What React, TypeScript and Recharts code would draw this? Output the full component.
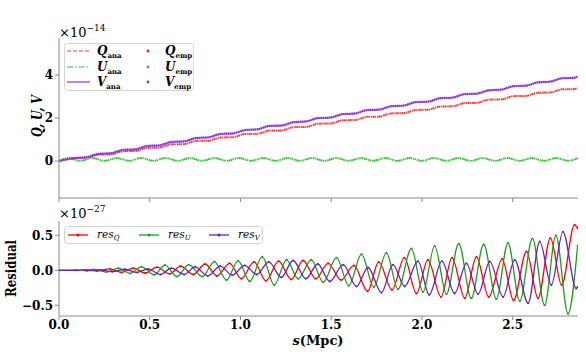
import { LineChart, Line, XAxis, YAxis, Legend } from "recharts";

// top panel: Stokes parameters (units of 1e-14)
const stepS = [0, 0.084, 0.15, 0.218, 0.285, 0.353, 0.419, 0.487, 0.554, 0.622, 0.688, 0.756, 0.823, 0.891, 0.957, 1.025, 1.092, 1.16, 1.226, 1.294, 1.361, 1.429, 1.495, 1.563, 1.63, 1.698, 1.764, 1.832, 1.899, 1.967, 2.033, 2.101, 2.168, 2.236, 2.302, 2.37, 2.437, 2.505, 2.571, 2.639, 2.706, 2.774, 2.84, 2.858];
const qAna = [0, 0.15, 0.16, 0.295, 0.305, 0.455, 0.465, 0.615, 0.625, 0.775, 0.785, 0.935, 0.945, 1.095, 1.105, 1.255, 1.265, 1.415, 1.425, 1.575, 1.585, 1.735, 1.745, 1.895, 1.905, 2.055, 2.065, 2.215, 2.225, 2.375, 2.385, 2.535, 2.545, 2.695, 2.705, 2.855, 2.865, 3.015, 3.025, 3.175, 3.185, 3.335, 3.345, 3.4];
const vAna = [0, 0.13, 0.17, 0.335, 0.36, 0.52, 0.54, 0.7, 0.73, 0.89, 0.91, 1.07, 1.1, 1.26, 1.28, 1.44, 1.47, 1.63, 1.65, 1.81, 1.84, 2.0, 2.02, 2.18, 2.21, 2.37, 2.39, 2.55, 2.58, 2.74, 2.76, 2.92, 2.95, 3.11, 3.13, 3.29, 3.32, 3.48, 3.5, 3.66, 3.69, 3.85, 3.87, 3.93];
const uS = [0, 0.05, 0.117, 0.184, 0.251, 0.319, 0.386, 0.453, 0.52, 0.588, 0.655, 0.722, 0.789, 0.857, 0.924, 0.991, 1.058, 1.126, 1.193, 1.26, 1.327, 1.395, 1.462, 1.529, 1.596, 1.664, 1.731, 1.798, 1.865, 1.933, 2.0, 2.067, 2.134, 2.202, 2.269, 2.336, 2.403, 2.471, 2.538, 2.605, 2.672, 2.74, 2.807, 2.858];
const uAna = [0, 0.13, 0.01, 0.14, 0.01, 0.14, 0.01, 0.14, 0.01, 0.14, 0.01, 0.14, 0.01, 0.14, 0.01, 0.14, 0.01, 0.14, 0.01, 0.14, 0.01, 0.14, 0.01, 0.14, 0.01, 0.14, 0.01, 0.14, 0.01, 0.14, 0.01, 0.14, 0.01, 0.14, 0.01, 0.14, 0.01, 0.14, 0.01, 0.14, 0.01, 0.14, 0.01, 0.13];
// empirical values sit on top of the analytic ones
const qEmp = qAna;
const uEmp = uAna;
const vEmp = vAna;

// bottom panel: residuals (units of 1e-27)
const resQS = [0, 0.09, 0.145, 0.21, 0.28, 0.345, 0.41, 0.475, 0.54, 0.61, 0.67, 0.74, 0.805, 0.87, 0.94, 1.005, 1.075, 1.14, 1.21, 1.28, 1.345, 1.415, 1.483, 1.555, 1.625, 1.7, 1.762, 1.835, 1.903, 1.97, 2.033, 2.105, 2.166, 2.236, 2.3, 2.368, 2.442, 2.505, 2.576, 2.64, 2.708, 2.77, 2.841, 2.858];
const resQ = [0, 0, 0.005, -0.01, 0.02, -0.03, 0.03, -0.04, 0.045, -0.05, 0.06, -0.06, 0.09, -0.08, 0.1, -0.12, 0.12, -0.15, 0.13, -0.13, 0.14, -0.12, 0.1, -0.14, 0.07, -0.3, 0.12, -0.28, 0.18, -0.33, 0.15, -0.38, 0.18, -0.4, 0.19, -0.38, 0.16, -0.43, 0.27, -0.4, 0.46, -0.21, 0.65, 0.6];
const resUS = [0, 0.12, 0.19, 0.26, 0.327, 0.391, 0.455, 0.525, 0.584, 0.65, 0.715, 0.79, 0.856, 0.923, 0.987, 1.052, 1.12, 1.186, 1.254, 1.318, 1.39, 1.456, 1.529, 1.597, 1.667, 1.735, 1.804, 1.868, 1.942, 2.006, 2.07, 2.135, 2.203, 2.272, 2.34, 2.41, 2.474, 2.539, 2.609, 2.676, 2.738, 2.805, 2.858];
const resU = [0, 0, 0.012, -0.025, 0.03, -0.045, 0.05, -0.065, 0.075, -0.09, 0.08, -0.09, 0.125, -0.14, 0.135, -0.16, 0.195, -0.21, 0.15, -0.12, 0.15, -0.17, 0.18, -0.22, 0.23, -0.24, 0.25, -0.27, 0.31, -0.31, 0.35, -0.34, 0.38, -0.4, 0.37, -0.41, 0.39, -0.44, 0.455, -0.5, 0.5, -0.62, 0.35];
const resVS = [0, 0.1, 0.155, 0.225, 0.295, 0.363, 0.43, 0.49, 0.56, 0.62, 0.69, 0.75, 0.82, 0.888, 0.955, 1.023, 1.09, 1.156, 1.225, 1.29, 1.36, 1.426, 1.492, 1.566, 1.639, 1.703, 1.777, 1.84, 1.905, 1.978, 2.04, 2.11, 2.18, 2.245, 2.309, 2.374, 2.447, 2.511, 2.585, 2.649, 2.713, 2.777, 2.85, 2.858];
const resV = [0, 0, -0.005, 0.005, -0.02, 0.015, -0.03, 0.02, -0.06, 0.03, -0.06, 0.05, -0.08, 0.06, -0.07, 0.07, -0.06, 0.12, -0.1, 0.14, -0.12, 0.09, -0.16, 0.08, -0.23, 0.04, -0.32, 0.08, -0.23, 0.13, -0.35, 0.13, -0.33, 0.1, -0.34, 0.125, -0.38, 0.15, -0.47, 0.41, -0.21, 0.55, -0.26, -0.24];

const xTicks = [0, 0.5, 1, 1.5, 2, 2.5];
const topTicks = [0, 2, 4];
const resTicks = [-0.5, 0, 0.5];

const SPINE = "#8a8a8a";
const FONT = "DejaVu Serif";
const Q_ANA = "#ff7a7a";
const Q_EMP = "#ff1c1c";
const U_ANA = "#6fd86f";
const U_EMP = "#2cbf2c";
const V_ANA = "#a766f2";
const V_EMP = "#8a2be2";
const RES_Q = "#ff0000";
const RES_U = "#1f9a1f";
const RES_V = "#6a22b0";

const pts = (s: number[], v: number[]) => s.map((x, i) => ({ s: x, v: v[i] }));

const tickStyle = { fontSize: 12, fontWeight: "bold", fill: "#000", fontFamily: FONT };
const minus = (v: number, d: number) => v.toFixed(d).replace("-", "\u2212");

function TopLegend() {
  const rows = [
    { sym: "Q", ana: Q_ANA, emp: Q_EMP, dash: "4 2", y: 8 },
    { sym: "U", ana: U_ANA, emp: U_EMP, dash: "6 2 1.5 2", y: 24 },
    { sym: "V", ana: V_ANA, emp: V_EMP, dash: undefined, y: 39 },
  ];
  return (
    <svg width={130} height={48}>
      <rect x={0.5} y={0.5} width={129} height={47} rx={3} fill="#fff" fillOpacity={0.85} stroke="#d3d3d3" />
      {rows.map((r) => (
        <g key={r.sym}>
          <line x1={3} x2={26} y1={r.y} y2={r.y} stroke={r.ana} strokeWidth={1.6} strokeDasharray={r.dash} />
          <text x={33} y={r.y + 4} fontFamily={FONT} fill="#000">
            <tspan fontSize={12} fontStyle="italic" fontWeight="bold">{r.sym}</tspan>
            <tspan fontSize={7} fontWeight="bold" dy={2.5}>ana</tspan>
          </text>
          <circle cx={84} cy={r.y} r={1.4} fill={r.emp} />
          <text x={101} y={r.y + 4} fontFamily={FONT} fill="#000">
            <tspan fontSize={12} fontStyle="italic" fontWeight="bold">{r.sym}</tspan>
            <tspan fontSize={7} fontWeight="bold" dy={2.5}>emp</tspan>
          </text>
        </g>
      ))}
    </svg>
  );
}

function ResLegend() {
  const items = [
    { sub: "Q", color: RES_Q, x: 4 },
    { sub: "U", color: RES_U, x: 75 },
    { sub: "V", color: RES_V, x: 145 },
  ];
  return (
    <svg width={199} height={18}>
      <rect x={0.5} y={0.5} width={198} height={17} rx={3} fill="#fff" fillOpacity={0.85} stroke="#d3d3d3" />
      {items.map((it) => (
        <g key={it.sub}>
          <line x1={it.x} x2={it.x + 20} y1={9} y2={9} stroke={it.color} strokeWidth={1.3} />
          <circle cx={it.x + 10} cy={9} r={1.5} fill={it.color} />
          <text x={it.x + 29} y={12} fontFamily={FONT} fill="#000" fontStyle="italic">
            <tspan fontSize={10.5}>res</tspan>
            <tspan fontSize={7} dy={2}>{it.sub}</tspan>
          </text>
        </g>
      ))}
    </svg>
  );
}

export default function App() {
  return (
    <div style={{ position: "absolute", left: 0, top: 0, width: 586, height: 362, background: "#fff" }}>
      <div style={{ position: "absolute", left: 0, top: 0 }}>
        <LineChart width={586} height={210} margin={{ top: 38, right: 8, left: 0, bottom: 0 }}>
          <XAxis xAxisId="b" dataKey="s" type="number" domain={[0, 2.86]} ticks={xTicks} allowDataOverflow
            tickFormatter={() => ""} height={12} stroke={SPINE} tickSize={4} />
          <XAxis xAxisId="t" dataKey="s" type="number" orientation="top" domain={[0, 2.86]} allowDataOverflow
            tick={false} tickLine={false} height={0} stroke={SPINE} />
          <YAxis yAxisId="l" type="number" domain={[-1.72, 5.72]} ticks={topTicks} allowDataOverflow
            width={59} stroke={SPINE} tickSize={4} tickMargin={2} tick={tickStyle} />
          <YAxis yAxisId="r" type="number" orientation="right" domain={[-1.72, 5.72]} allowDataOverflow
            tick={false} tickLine={false} width={0} stroke={SPINE} />
          <Legend layout="horizontal" verticalAlign="middle" align="center" content={TopLegend}
            wrapperStyle={{ left: 64, top: 43, width: 130, height: 48 }} />
          <Line xAxisId="b" yAxisId="l" data={pts(stepS, qAna)} dataKey="v" type="monotone" stroke={Q_ANA}
            strokeWidth={1.6} strokeDasharray="4 2" dot={false} isAnimationActive={false} />
          <Line xAxisId="b" yAxisId="l" data={pts(uS, uAna)} dataKey="v" type="monotone" stroke={U_ANA}
            strokeWidth={1.6} strokeDasharray="6 2 1.5 2" dot={false} isAnimationActive={false} />
          <Line xAxisId="b" yAxisId="l" data={pts(stepS, vAna)} dataKey="v" type="monotone" stroke={V_ANA}
            strokeWidth={1.8} dot={false} isAnimationActive={false} />
          <Line xAxisId="b" yAxisId="l" data={pts(stepS, qEmp)} dataKey="v" type="monotone" stroke={Q_EMP}
            strokeOpacity={0.8} strokeWidth={2} strokeDasharray="1.2 0.9" dot={false} isAnimationActive={false} />
          <Line xAxisId="b" yAxisId="l" data={pts(uS, uEmp)} dataKey="v" type="monotone" stroke={U_EMP}
            strokeOpacity={0.85} strokeWidth={2} strokeDasharray="1.2 0.9" dot={false} isAnimationActive={false} />
          <Line xAxisId="b" yAxisId="l" data={pts(stepS, vEmp)} dataKey="v" type="monotone" stroke={V_EMP}
            strokeWidth={2.2} strokeDasharray="1.2 0.9" dot={false} isAnimationActive={false} />
        </LineChart>
      </div>
      <div style={{ position: "absolute", left: 0, top: 210 }}>
        <LineChart width={586} height={126} margin={{ top: 11, right: 8, left: 0, bottom: 0 }}>
          <XAxis xAxisId="b" dataKey="s" type="number" domain={[0, 2.86]} ticks={xTicks} allowDataOverflow
            tickFormatter={(v: number) => v.toFixed(1)} height={20} stroke={SPINE} tickSize={4} tickMargin={0}
            tick={tickStyle} />
          <XAxis xAxisId="t" dataKey="s" type="number" orientation="top" domain={[0, 2.86]} allowDataOverflow
            tick={false} tickLine={false} height={0} stroke={SPINE} />
          <YAxis yAxisId="l" type="number" domain={[-0.653, 0.704]} ticks={resTicks} allowDataOverflow
            width={59} stroke={SPINE} tickSize={4} tickMargin={2} tick={tickStyle}
            tickFormatter={(v: number) => minus(v, 1)} />
          <YAxis yAxisId="r" type="number" orientation="right" domain={[-0.653, 0.704]} allowDataOverflow
            tick={false} tickLine={false} width={0} stroke={SPINE} />
          <Legend layout="horizontal" verticalAlign="middle" align="center" content={ResLegend}
            wrapperStyle={{ left: 64, top: 16, width: 199, height: 18 }} />
          <Line xAxisId="b" yAxisId="l" data={pts(resQS, resQ)} dataKey="v" type="monotone" stroke={RES_Q}
            strokeWidth={1.3} dot={{ r: 1, fill: RES_Q, stroke: "none" }} isAnimationActive={false} />
          <Line xAxisId="b" yAxisId="l" data={pts(resUS, resU)} dataKey="v" type="monotone" stroke={RES_U}
            strokeWidth={1.3} dot={{ r: 1, fill: RES_U, stroke: "none" }} isAnimationActive={false} />
          <Line xAxisId="b" yAxisId="l" data={pts(resVS, resV)} dataKey="v" type="monotone" stroke={RES_V}
            strokeWidth={1.3} dot={{ r: 1, fill: RES_V, stroke: "none" }} isAnimationActive={false} />
        </LineChart>
      </div>
      <svg width={586} height={362} style={{ position: "absolute", left: 0, top: 0, pointerEvents: "none" }}>
        <text x={59} y={37} fontFamily={FONT} fontSize={13} fill="#000">
          ×10<tspan fontSize={9} dy={-6}>{"\u221214"}</tspan>
        </text>
        <text x={59} y={218} fontFamily={FONT} fontSize={13} fill="#000">
          ×10<tspan fontSize={9} dy={-6}>{"\u221227"}</tspan>
        </text>
        <text x={0} y={0} transform="translate(36.5,116) rotate(-90)" textAnchor="middle" dominantBaseline="central"
          fontFamily={FONT} fontSize={15} fontWeight="bold" fontStyle="italic" fill="#000"
          textLength={42} lengthAdjust="spacingAndGlyphs">
          Q, U, V
        </text>
        <text x={0} y={0} transform="translate(11,268.5) rotate(-90)" textAnchor="middle" dominantBaseline="central"
          fontFamily={FONT} fontSize={14} fontWeight="bold" fill="#000" textLength={57} lengthAdjust="spacingAndGlyphs">
          Residual
        </text>
        <text x={318} y={345} textAnchor="middle" fontFamily={FONT} fontSize={13} fontWeight="bold" fill="#000">
          <tspan fontStyle="italic">s</tspan>(Mpc)
        </text>
      </svg>
    </div>
  );
}
